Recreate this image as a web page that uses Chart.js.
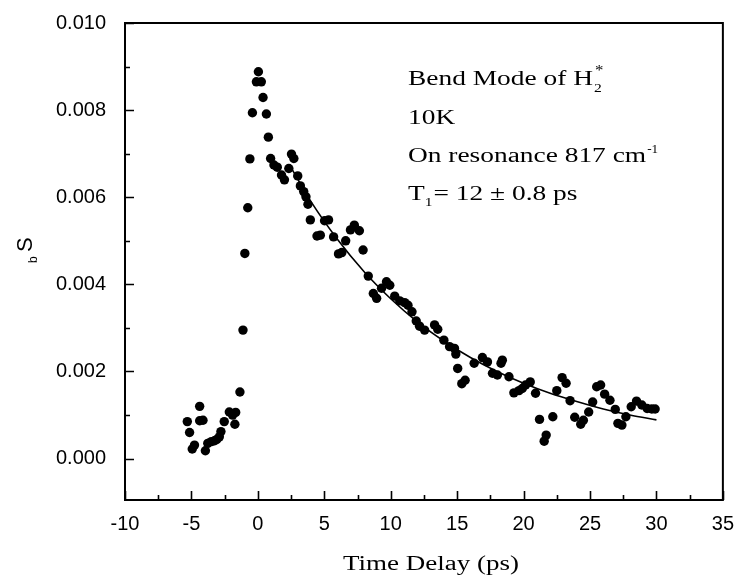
<!DOCTYPE html>
<html>
<head>
<meta charset="utf-8">
<script src="https://cdn.jsdelivr.net/npm/chart.js@4/dist/chart.umd.min.js"></script>
<style>
  html, body { margin: 0; padding: 0; background: #fff; }
  #wrap { width: 738px; height: 580px; }
</style>
</head>
<body>
<div id="wrap"><canvas id="c" width="738" height="580"></canvas></div>
<script>
// measured points, time delay in ps
const delayPs = [
  -5.31, -5.14, -4.94, -4.77, -4.38, -4.38, -4.13, -3.95, -3.77, -3.50,
  -3.26, -3.09, -2.90, -2.78, -2.53, -2.15, -1.90, -1.73, -1.67, -1.35,
  -1.12, -0.98, -0.76, -0.60, -0.41, -0.11, 0.04, 0.26, 0.39, 0.64,
  0.79, 0.96, 1.21, 1.46, 1.78, 2.00, 2.33, 2.53, 2.71, 3.00,
  3.20, 3.45, 3.62, 3.77, 3.95, 4.45, 4.70, 5.02, 5.32, 5.70,
  6.07, 6.32, 6.61, 6.97, 7.26, 7.64, 7.92, 8.31, 8.69, 8.94,
  9.31, 9.68, 9.93, 10.30, 10.68, 11.05, 11.30, 11.60, 11.92, 12.17,
  12.55, 13.30, 13.54, 14.00, 14.43, 14.80, 14.90, 15.04, 15.35, 15.60,
  16.28, 16.90, 17.28, 17.66, 18.03, 18.30, 18.40, 18.90, 19.27, 19.65,
  19.90, 20.15, 20.50, 20.90, 21.20, 21.55, 21.70, 22.20, 22.50, 22.90,
  23.20, 23.50, 23.85, 24.30, 24.50, 24.90, 25.20, 25.50, 25.80, 26.10,
  26.50, 26.90, 27.10, 27.40, 27.70, 28.10, 28.50, 28.90, 29.30, 29.65,
  29.90
];
const signalSb = [
  0.00085, 0.00060, 0.00022, 0.00031, 0.00120, 0.00087, 0.00088, 0.00018, 0.00035, 0.00039,
  0.00041, 0.00044, 0.00050, 0.00062, 0.00085, 0.00107, 0.00100, 0.00079, 0.00106, 0.00153,
  0.00295, 0.00471, 0.00576, 0.00688, 0.00794, 0.00865, 0.00888, 0.00865, 0.00829, 0.00791,
  0.00738, 0.00689, 0.00674, 0.00669, 0.00651, 0.00640, 0.00666, 0.00699, 0.00689, 0.00649,
  0.00626, 0.00613, 0.00601, 0.00584, 0.00548, 0.00511, 0.00513, 0.00546, 0.00548, 0.00509,
  0.00470, 0.00473, 0.00500, 0.00525, 0.00536, 0.00523, 0.00479, 0.00419, 0.00379, 0.00368,
  0.00391, 0.00406, 0.00398, 0.00373, 0.00362, 0.00358, 0.00352, 0.00337, 0.00316, 0.00304,
  0.00295, 0.00307, 0.00297, 0.00272, 0.00257, 0.00253, 0.00240, 0.00207, 0.00172, 0.00180,
  0.00219, 0.00232, 0.00222, 0.00196, 0.00192, 0.00219, 0.00226, 0.00188, 0.00151, 0.00156,
  0.00161, 0.00169, 0.00176, 0.00150, 0.00090, 0.00040, 0.00054, 0.00096, 0.00156, 0.00186,
  0.00173, 0.00133, 0.00095, 0.00079, 0.00088, 0.00107, 0.00130, 0.00165, 0.00169, 0.00148,
  0.00134, 0.00113, 0.00081, 0.00077, 0.00096, 0.00119, 0.00132, 0.00123, 0.00115, 0.00114,
  0.00114
];

// fitted decay curve
const fitX = [2.5, 4, 6, 8, 10, 12, 14, 16, 18, 20, 22, 24, 26, 28, 30];
const fitY = [0.00668, 0.00590, 0.00503, 0.00429, 0.00367, 0.00314, 0.00270, 0.00232,
              0.00200, 0.00173, 0.00150, 0.00131, 0.00114, 0.00100, 0.00089];

const xTickVals = [-10, -5, 0, 5, 10, 15, 20, 25, 30, 35];
const yTickVals = [0, 0.002, 0.004, 0.006, 0.008, 0.010];

const sansFont = '"Liberation Sans", Arial, sans-serif';
const serifFont = '"Liberation Serif", "Times New Roman", serif';

function stretchText(ctx, txt, x, y, size, sx) {
  ctx.save();
  ctx.translate(x, y);
  ctx.scale(sx, 1);
  ctx.font = size + 'px ' + serifFont;
  ctx.fillText(txt, 0, 0);
  const w = ctx.measureText(txt).width * sx;
  ctx.restore();
  return w;
}

const frameAndText = {
  id: 'frameAndText',
  afterDraw(chart) {
    const ctx = chart.ctx;
    const a = chart.chartArea;
    const xs = chart.scales.x, ys = chart.scales.y;
    ctx.save();
    ctx.strokeStyle = '#000';
    ctx.fillStyle = '#000';
    ctx.lineWidth = 2;
    ctx.strokeRect(a.left, a.top, a.right - a.left, a.bottom - a.top);

    // inward ticks, minor between majors
    ctx.lineWidth = 1.6;
    ctx.beginPath();
    for (let v = -10; v <= 35; v += 2.5) {
      const px = Math.round(xs.getPixelForValue(v)) + 0.5;
      const len = (v % 5 === 0) ? 9 : 5;
      ctx.moveTo(px, a.bottom);
      ctx.lineTo(px, a.bottom - len);
    }
    for (let i = 0; i <= 10; i++) {
      const v = i * 0.001;
      const py = Math.round(ys.getPixelForValue(v)) + 0.5;
      const len = (i % 2 === 0) ? 9 : 5;
      ctx.moveTo(a.left, py);
      ctx.lineTo(a.left + len, py);
    }
    ctx.stroke();

    // axis titles
    ctx.textBaseline = 'alphabetic';
    ctx.textAlign = 'left';
    const title = 'Time Delay (ps)';
    ctx.font = '20px ' + serifFont;
    const tw = ctx.measureText(title).width * 1.35;
    stretchText(ctx, title, 431 - tw / 2, 570, 20, 1.35);

    ctx.save();
    ctx.translate(32, 252);
    ctx.rotate(-Math.PI / 2);
    ctx.font = '22px ' + sansFont;
    ctx.fillText('S', 0, 0);
    ctx.restore();
    ctx.save();
    ctx.translate(37, 263);
    ctx.rotate(-Math.PI / 2);
    ctx.font = '12px ' + sansFont;
    ctx.fillText('b', 0, 0);
    ctx.restore();

    // annotation block
    const sx = 1.37, fs = 20, x0 = 408;
    let w = stretchText(ctx, 'Bend Mode of H', x0, 85, fs, sx);
    stretchText(ctx, '2', x0 + w + 1, 92, 13, 1.2);
    stretchText(ctx, '*', x0 + w + 2, 75, 14, 1.2);

    stretchText(ctx, '10K', x0, 124, fs, sx);

    w = stretchText(ctx, 'On resonance 817 cm', x0, 162, fs, sx);
    stretchText(ctx, '-1', x0 + w + 1, 153, 12, 1.1);

    w = stretchText(ctx, 'T', x0, 200, fs, sx);
    const w2 = stretchText(ctx, '1', x0 + w, 206, 13, 1.2);
    stretchText(ctx, '= 12 \u00b1 0.8 ps', x0 + w + w2 + 1, 200, fs, sx);
    ctx.restore();
  }
};

const points = delayPs.map((t, i) => ({ x: t, y: signalSb[i] }));
const fitPts = fitX.map((t, i) => ({ x: t, y: fitY[i] }));

new Chart(document.getElementById('c'), {
  type: 'scatter',
  data: {
    datasets: [
      {
        label: 'fit',
        data: fitPts,
        showLine: true,
        borderColor: '#000',
        borderWidth: 1.6,
        pointRadius: 0,
        cubicInterpolationMode: 'monotone',
        order: 2
      },
      {
        label: 'S_b',
        data: points,
        backgroundColor: '#000',
        borderColor: '#000',
        pointRadius: 4.7,
        pointBorderWidth: 0,
        order: 1
      }
    ]
  },
  options: {
    responsive: false,
    animation: false,
    devicePixelRatio: 1,
    layout: { padding: { left: 0, right: 11, top: 22, bottom: 0 } },
    plugins: { legend: { display: false }, tooltip: { enabled: false } },
    scales: {
      x: {
        type: 'linear',
        min: -10,
        max: 35,
        afterFit(s) { s.height = 80; },
        afterBuildTicks(s) { s.ticks = xTickVals.map(v => ({ value: v })); },
        grid: { display: false },
        border: { display: false },
        ticks: {
          color: '#000',
          padding: 4,
          maxRotation: 0,
          font: { family: sansFont, size: 20 }
        }
      },
      y: {
        type: 'linear',
        min: -0.00095,
        max: 0.010,
        afterFit(s) { s.width = 125; },
        afterBuildTicks(s) { s.ticks = yTickVals.map(v => ({ value: v })); },
        grid: { display: false },
        border: { display: false },
        ticks: {
          color: '#000',
          padding: 11,
          font: { family: sansFont, size: 20 },
          callback: v => v.toFixed(3)
        }
      }
    }
  },
  plugins: [frameAndText]
});
</script>
</body>
</html>
